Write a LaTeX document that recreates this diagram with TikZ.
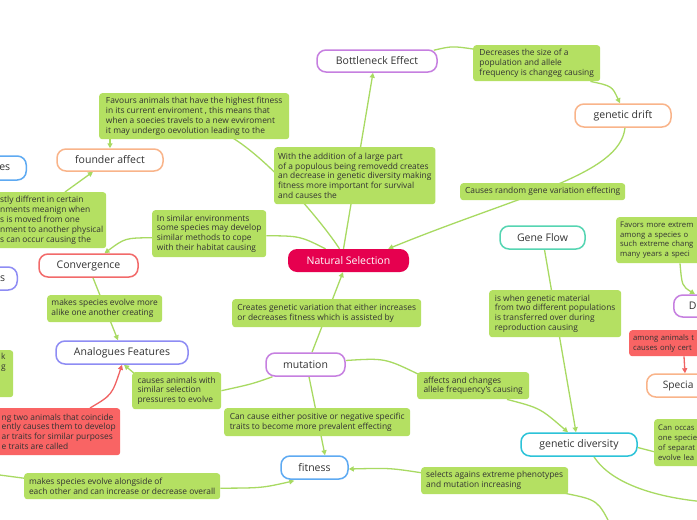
\documentclass[tikz,border=0pt]{standalone}
\usepackage{fontspec}
\setmainfont{Open Sans}
\usetikzlibrary{arrows.meta,backgrounds}
\definecolor{gfill}{HTML}{B4E062}
\definecolor{gline}{HTML}{A8DA62}
\definecolor{txt}{HTML}{333333}
\definecolor{nsred}{HTML}{E6004F}
\definecolor{rfill}{HTML}{F96464}
\definecolor{rline}{HTML}{F06262}
\definecolor{cpurple}{HTML}{C67FE0}
\definecolor{corange}{HTML}{F9B48A}
\definecolor{cblue}{HTML}{5EAAF2}
\definecolor{cred}{HTML}{F26A6A}
\definecolor{cperi}{HTML}{8E8CF4}
\definecolor{cteal}{HTML}{55D5B2}
\definecolor{ccyan}{HTML}{2CC3D8}
\begin{document}
\begin{tikzpicture}[x=1pt,y=-1pt,
 title/.style={draw=#1, line width=1.5pt, fill=white, rounded corners=9pt, text=txt, font=\fontsize{10.5}{12}\selectfont, inner sep=0pt},
 nsbox/.style={fill=nsred, rounded corners=9pt, text=white, font=\fontsize{10.5}{12}\selectfont, inner sep=0pt},
 lbl/.style={fill=gfill, rounded corners=3pt, text=txt, font=\fontsize{8.4}{9.8}\selectfont, align=left, inner xsep=4pt, inner ysep=0pt, anchor=north west},
 rlbl/.style={lbl, fill=rfill},
 edgefont/.style={font=\fontsize{7.7}{9.8}\selectfont},
 conn/.style={draw=gline, line width=1.3pt},
 rconn/.style={draw=rline, line width=1.3pt},
 arr/.style={-{Triangle[length=5pt,width=5pt]}},
]
\useasboundingbox (0,0) rectangle (697,520);

% title nodes
\node[title=cpurple, minimum width=120pt, minimum height=22pt] (bn) at (377,61) {Bottleneck Effect};
\node[title=corange, minimum width=96pt, minimum height=23pt] (gd) at (623,115.5) {genetic drift};
\node[title=corange, minimum width=106pt, minimum height=22pt] (fa) at (110,160) {founder affect};
\node[title=cblue, minimum height=24pt, text width=40pt, align=right, inner xsep=16pt, anchor=east] (es) at (27,168) {es};
\node[title=cred, minimum width=99pt, minimum height=23pt] (conv) at (88.5,265.5) {Convergence};
\node[title=cperi, minimum height=23pt, text width=30pt, align=right, inner xsep=12pt, anchor=east] (sl) at (18,278.5) {s};
\node[title=cperi, minimum width=132pt, minimum height=23pt] (af) at (122,352.5) {Analogues Features};
\node[nsbox, minimum width=121pt, minimum height=23pt] (ns) at (348.5,260.5) {Natural Selection};
\node[title=cpurple, minimum width=79pt, minimum height=23pt] (mut) at (305.5,364.5) {mutation};
\node[title=cblue, minimum width=67pt, minimum height=23pt] (fit) at (314.5,467.5) {fitness};
\node[title=cteal, minimum width=85pt, minimum height=23pt] (gf) at (542.5,237.5) {Gene Flow};
\node[title=ccyan, minimum width=116pt, minimum height=23pt] (gdv) at (579,444.5) {genetic diversity};
\node[title=cpurple, minimum height=22pt, text width=40pt, align=left, inner xsep=15pt, anchor=west] (dn) at (673,306) {D};
\node[title=corange, minimum height=23pt, text width=60pt, align=left, inner xsep=16pt, anchor=west, font=\fontsize{10.2}{12}\selectfont] (sp) at (646,385.5) {Specia};

% label boxes
\node[lbl, minimum width=190pt, minimum height=46pt] (lA) at (99,93) {Favours animals that have the highest fitness\\ in its current enviroment , this means that\\when a soecies travels to a new evviroment\\ it may undergo oevolution leading to the};
\node[lbl, minimum width=161pt, minimum height=57pt] (lB) at (274,147) {With the addition of a large part\\of a populous being removedd creates\\an decrease in genetic diversity making\\fitness more important for survival\\and causes the};
\node[lbl, minimum width=127pt, minimum height=36pt] (lC) at (473,45) {Decreases the size of a\\population and allele\\frequency is changeg causing};
\node[lbl, minimum width=165pt, minimum height=17pt] (lD) at (460,183) {Causes random gene variation effecting};
\node[lbl, minimum width=101pt, inner xsep=3pt, minimum height=56pt] (lE) at (-3,192) {stly diffrent in certain\\nments meanign when\\s is moved from one\\nment to another physical\\s can occur causing the};
\node[lbl, minimum width=114pt, minimum height=47pt] (lF) at (152,210) {In similar environments\\some species may develop\\similar methods to cope\\ with their habitat causing};
\node[lbl, minimum width=115pt, minimum height=27pt] (lG) at (47,295) {makes species evolve more\\alike one another creating};
\node[lbl, inner xsep=4pt, inner ysep=0pt] (lH) at (-3,350) {\parbox[t][47pt][t]{8pt}{\vspace{3pt}k\\g}};
\node[rlbl, minimum width=123pt, inner xsep=3pt, minimum height=47pt] (lI) at (-3,408) {ng two animals that coincide\\ently causes them to develop\\ar traits for similar purposes\\e traits are called};
\node[lbl, minimum width=89pt, minimum height=37pt] (lJ) at (132,372) {causes animals with\\similar selection\\ pressures to evolve};
\node[lbl, minimum width=189pt, minimum height=28pt] (lK) at (232,299) {Creates genetic variation that either increases\\or decreases fitness which is assisted by};
\node[lbl, minimum width=132pt, minimum height=47pt] (lL) at (489,290) {is when genetic material\\from two different populations\\is transferred over during\\reproduction causing};
\node[lbl, minimum width=112pt, minimum height=27pt] (lM) at (417,372) {affects and changes\\ allele frequency's causing};
\node[lbl, minimum width=186pt, minimum height=28pt] (lN) at (224,408) {Can cause either positive or negative specific\\traits to become more prevalent effecting};
\node[lbl, minimum width=196pt, minimum height=26pt] (lO) at (24,473) {makes species evolve alongside of\\each other and can increase or decrease  overall};
\node[lbl, minimum width=147pt, minimum height=27pt] (lP) at (421,467) {selects agains extreme phenotypes\\and mutation increasing};
\node[lbl, edgefont, text width=100pt, minimum height=46pt] (lQ) at (616,217) {Favors more extrem\\ among a species  o\\such extreme chang\\many years a speci};
\node[rlbl, edgefont, text width=90pt, minimum height=26pt] (lR) at (629,330) {among animals t\\causes only cert};
\node[lbl, edgefont, text width=70pt, minimum height=47pt] (lS) at (654,419) {Can occas\\one specie\\of separat\\evolve lea};

\coordinate (offB) at (612,528);
\coordinate (offL) at (-8,474);
\coordinate (offR) at (706,502);

\begin{pgfonlayer}{background}
\fill[white] (0,0) rectangle (697,520);
\draw[conn,arr] ([xshift=-5pt]ns.north) -- ([xshift=-4pt]bn.south);
\draw[conn] ([xshift=-9pt]ns.north) .. controls (322,222) and (270,160) .. ([xshift=36pt,yshift=3pt]lA.south);
\draw[conn,arr] (lA.south -| fa.north) -- (fa.north);
\draw[conn] ([xshift=-4pt,yshift=-1pt]bn.north east) .. controls (452,46) .. ([yshift=-4pt]lC.north west);
\draw[conn,arr] ([xshift=-10pt]lC.south east) .. controls (612,86) .. ([xshift=-3pt]gd.north);
\draw[conn,arr] ([xshift=2pt]gd.south) .. controls (620,175) and (520,195) .. ([xshift=-21pt]ns.north east);
\draw[conn,arr] ([xshift=68pt]lE.north west) -- ([xshift=-17pt]fa.south);
\draw[conn] ([xshift=-23pt]ns.north) .. controls (300,236) .. ([yshift=-2pt]lF.east);
\draw[conn,arr] ([yshift=-4pt]lF.west) .. controls (125,238) .. ([xshift=16pt]conv.north);
\draw[conn,arr] ([xshift=4.5pt]conv.south) -- ([xshift=-4pt]af.north);
\draw[rconn,arr] ([xshift=93pt]lI.north west) .. controls (112,395) .. (af.south);
\draw[conn] ([xshift=-33pt]mut.south) .. controls (252,384) .. (lJ.east);
\draw[conn,arr] ([xshift=3pt,yshift=-2pt]lJ.north west) -- ([xshift=2pt]af.south);
\draw[conn,arr] ([xshift=6.5pt]mut.north) -- ([xshift=-5.5pt]ns.south);
\draw[conn] ([yshift=4pt]mut.east) .. controls (385,358) .. ([xshift=3pt,yshift=-3pt]lM.north west);
\draw[conn,arr] ([xshift=90pt]lM.south west) .. controls (540,408) .. ([xshift=-11pt]gdv.north);
\draw[conn,arr] ([xshift=3.5pt]mut.south) -- ([xshift=10.5pt]fit.north);
\draw[conn,arr] ([yshift=8pt]lP.west) .. controls (390,468) .. ([yshift=-1.5pt]fit.east);
\draw[conn] ([xshift=-3pt,yshift=1pt]lP.south east) .. controls (598,500) .. (offB);
\draw[conn] ([yshift=8pt]lO.west) -- (offL);
\draw[conn,arr] ([yshift=-2pt]lO.east) .. controls (262,488) .. ([xshift=14pt,yshift=-1pt]fit.south west);
\draw[conn,arr] ([xshift=2pt]gf.south) -- ([xshift=-3pt]gdv.north);
\draw[conn] ([yshift=-3pt]gdv.east) -- ([yshift=-9pt]lS.west);
\draw[conn] ([xshift=15pt]gdv.south) .. controls (612,485) and (660,498) .. (offR);
\draw[conn,arr] ([xshift=64pt]lQ.south west) .. controls (682,286) .. ([xshift=22pt]dn.north west);
\draw[rconn,arr] ([xshift=55pt]lR.south west) -- ([xshift=39pt]sp.north west);
\end{pgfonlayer}
\end{tikzpicture}
\end{document}
